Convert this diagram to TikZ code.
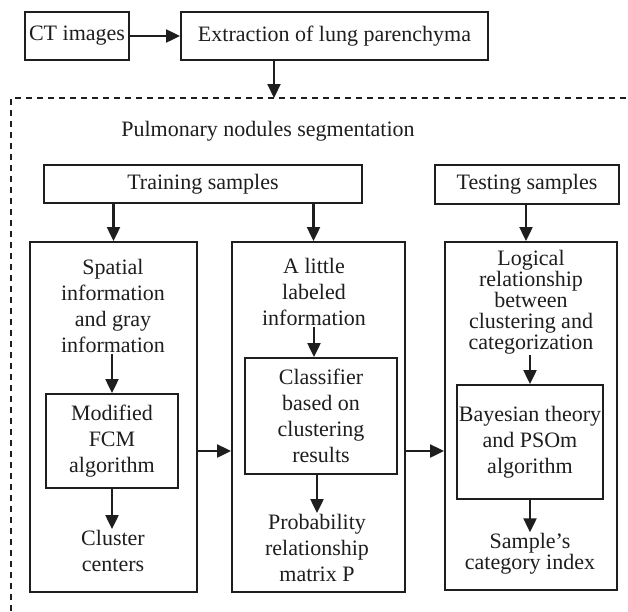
\documentclass[tikz,border=0pt]{standalone}
\usepackage{fontspec}
\setmainfont{Liberation Serif}
\usetikzlibrary{arrows.meta,calc}
\definecolor{ink}{HTML}{1E1E1E}
\tikzset{
  x=1pt,y=-1pt,
  every node/.style={font=\fontsize{22}{26}\selectfont, text=ink},
  box/.style={draw=ink, line width=1.9pt, inner sep=0pt, align=center},
  txt/.style={inner sep=1pt, align=center},
  tight/.style={font=\fontsize{22}{21}\selectfont},
  arr/.style={draw=ink, line width=2.2pt, -{Triangle[length=14pt,width=13pt]}},
  dashline/.style={draw=ink, line width=1.5pt, dash pattern=on 6pt off 5pt}
}
\begin{document}
\begin{tikzpicture}
\useasboundingbox (0,0) rectangle (628,611);
\fill[white] (0,0) rectangle (628,611);
% top row
\node[box, minimum width=104pt, minimum height=48pt] (ct) at (77,36) {CT images};
\node[box, minimum width=307pt, minimum height=48pt] (ext) at (334.5,36) {Extraction of lung parenchyma};
\draw[arr] (ct.east) -- (ext.west);
% dashed region
\coordinate (dtop) at (274,98);
\coordinate (dl) at (11,98);
\coordinate (dbl) at (11,611);
\coordinate (dtr) at (628,98);
\draw[dashline] (dbl) -- (dl) -- (dtr);
\draw[arr] (ext.south -| dtop) -- (dtop);
\node[txt] (title) at (268,131) {Pulmonary nodules segmentation};
% samples
\node[box, minimum width=318pt, minimum height=38pt] (train) at (203,184) {Training samples};
\node[box, minimum width=184pt, minimum height=39pt] (test) at (527,184.5) {Testing samples};
% big boxes
\node[box, minimum width=167pt, minimum height=350pt] (left) at (113.5,417) {};
\node[box, minimum width=173pt, minimum height=350pt] (mid) at (318.5,417) {};
\node[box, minimum width=172pt, minimum height=348pt] (right) at (531,416) {};
\draw[arr] (train.south -| left.north) -- (left.north);
\draw[arr] ([xshift=-5pt]train.south -| mid.north) -- ([xshift=-5pt]mid.north);
\draw[arr] ([xshift=-1pt]test.south) -- ([xshift=-1pt]test.south |- right.north);
% left column
\node[txt] (ltxt) at (113,306) {Spatial\\information\\and gray\\information};
\node[box, minimum width=132pt, minimum height=94pt] (fcm) at (112,441) {Modified\\FCM\\algorithm};
\node[txt] (cc) at (113,551) {Cluster\\centers};
\draw[arr] (ltxt.south -| fcm.north) -- (fcm.north);
\draw[arr] (fcm.south) -- (fcm.south |- cc.north);
% middle column
\node[txt] (mtxt) at (314,292) {A little\\labeled\\information};
\node[box, minimum width=152pt, minimum height=116pt] (cls) at (321,416) {Classifier\\based on\\clustering\\results};
\node[txt] (prob) at (317,548) {Probability\\relationship\\matrix P};
\draw[arr] (mtxt.south) -- (mtxt.south |- cls.north);
\draw[arr] ([xshift=-4pt]cls.south) -- ([xshift=-4pt]cls.south |- prob.north);
% right column
\node[txt, tight] (rtxt) at (531,302) {Logical\\relationship\\between\\clustering and\\categorization};
\node[box, minimum width=146pt, minimum height=114pt] (bay) at (530,442) {Bayesian theory\\and PSOm\\algorithm};
\node[txt, tight] (samp) at (530,554) {Sample's\\category index};
\draw[arr] (rtxt.south -| bay.north) -- (bay.north);
\draw[arr] (bay.south) -- (bay.south |- samp.north);
% horizontal arrows
\draw[arr] ([yshift=-34pt]left.east) -- ([yshift=-34pt]mid.west);
\draw[arr] ([yshift=-34pt]mid.east) -- ([yshift=-34pt]mid.east -| right.west);
\end{tikzpicture}
\end{document}
